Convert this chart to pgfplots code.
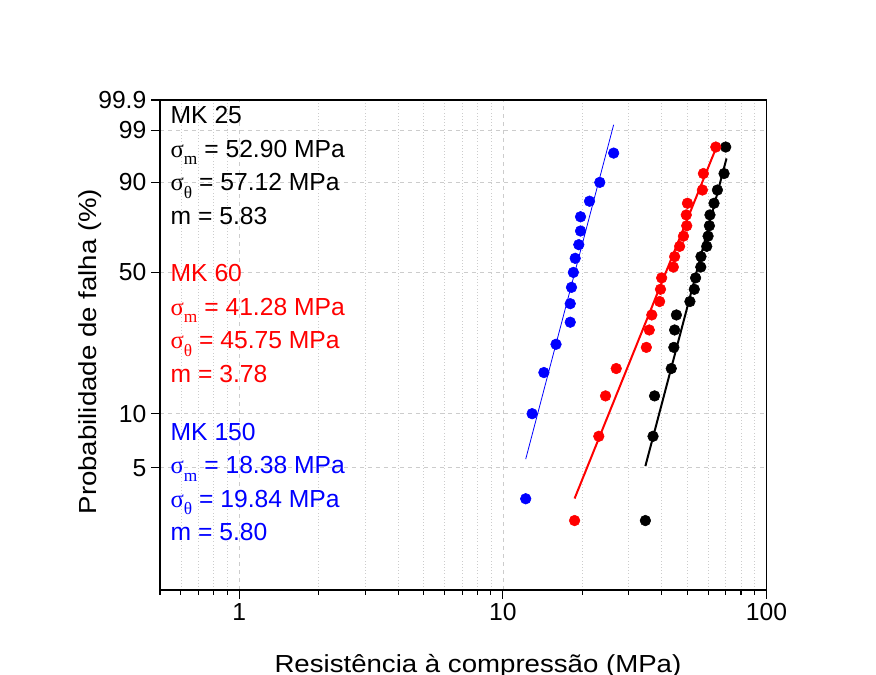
\documentclass[border=0pt]{standalone}
\usepackage{fontspec}
\setmainfont{Liberation Sans}
\newfontfamily\labfont[FakeStretch=1.12]{Liberation Sans}
\newfontfamily\grk{Liberation Serif}
\usepackage{pgfplots}
\usepackage{pgfplotstable}
\pgfplotsset{compat=1.18}
\usetikzlibrary{calc}

% sigma with a serif subscript, as in the original annotation
\newcommand{\sig}[1]{{\grk σ}\raisebox{-0.3em}{\grk\fontsize{13}{13}\selectfont #1}}

% strength (MPa) vs failure probability (%)
\pgfplotstableread{
x P
34.7 2.5
37.1 7.5
37.6 12.5
43.5 17.5
44.5 22.5
44.8 27.5
45.5 32.5
51.2 37.5
53.2 42.5
53.8 47.5
56.3 52.5
56.4 57.5
59.3 62.5
60.0 67.5
60.7 72.5
61.0 77.5
63.2 82.5
65.1 87.5
69.0 92.5
70.0 97.5
}\mkA
\pgfplotstableread{
x P
18.7 2.5
23.1 7.5
24.5 12.5
26.9 17.5
35.0 22.5
35.9 27.5
36.7 32.5
39.3 37.5
39.6 42.5
40.0 47.5
44.3 52.5
44.8 57.5
46.8 62.5
48.4 67.5
49.8 72.5
49.6 77.5
50.1 82.5
57.1 87.5
57.6 92.5
64.2 97.5
}\mkB
\pgfplotstableread{
x P
12.2 3.33
12.9 10
14.3 16.67
15.9 23.33
18.0 30
18.0 36.67
18.2 43.33
18.5 50
18.8 56.67
19.4 63.33
19.7 70
19.7 76.67
21.3 83.33
23.3 90
26.3 96.67
}\mkC
% fitted lines (end points)
\pgfplotstableread{
x P
34.7 5.1
70.5 95.8
}\fitA
\pgfplotstableread{
x P
18.7 3.34
64.2 97.3
}\fitB
\pgfplotstableread{
x P
12.2 5.58
26.3 99.3
}\fitC

\begin{document}
\begin{tikzpicture}[font=\fontsize{18.5}{22}\selectfont]
\begin{axis}[
  scale only axis, width=455pt, height=367.5pt,
  xmode=log, xmin=0.5, xmax=100,
  ymin=-4.60015, ymax=1.93264,
  xtick={1,10,100}, xticklabels={1,10,100},
  minor xtick={0.5,0.6,0.7,0.8,0.9,2,3,4,5,6,7,8,9,20,30,40,50,60,70,80,90},
  ytick={-2.97020,-2.25037,-0.36651,0.83403,1.52718,1.93264},
  yticklabels={5,10,50,90,99,99.9},
  xtick pos=bottom, ytick pos=left,
  tick align=outside,
  major tick length=6.75pt, minor tick length=3.75pt,
  tick style={black, line width=0.8pt},
  axis line style={line width=1pt},
  grid=both,
  major grid style={dashed, gray!40, line width=0.5pt},
  minor grid style={dotted, gray!40, line width=0.5pt},
  clip=false,
]
\addplot[only marks, mark=*, mark size=4pt, black] table[x=x, y expr={ln(-ln(1-\thisrow{P}/100))}] {\mkA};
\addplot[only marks, mark=*, mark size=4pt, red] table[x=x, y expr={ln(-ln(1-\thisrow{P}/100))}] {\mkB};
\addplot[only marks, mark=*, mark size=4pt, blue] table[x=x, y expr={ln(-ln(1-\thisrow{P}/100))}] {\mkC};
\addplot[black, line width=1.5pt, mark=none] table[x=x, y expr={ln(-ln(1-\thisrow{P}/100))}] {\fitA};
\addplot[red, line width=1.5pt, mark=none] table[x=x, y expr={ln(-ln(1-\thisrow{P}/100))}] {\fitB};
\addplot[blue, line width=0.6pt, mark=none] table[x=x, y expr={ln(-ln(1-\thisrow{P}/100))}] {\fitC};
\coordinate (sw) at (rel axis cs:0,0);
\coordinate (ne) at (rel axis cs:1,1);
\coordinate (nw) at (rel axis cs:0,1);
\coordinate (s) at (rel axis cs:0.5,0);
\coordinate (w) at (rel axis cs:0,0.5);
\end{axis}

\node[anchor=base, font=\labfont\fontsize{18.5}{22}\selectfont] at ($(s)+(11pt,-62.25pt)$) {Resistência à compressão (MPa)};
\node[rotate=90, anchor=center, font=\labfont\fontsize{18.5}{22}\selectfont] at ($(w)+(-52.5pt,-5pt)$) {Probabilidade de falha (\%)};

\begin{scope}[every node/.style={anchor=base west}]
\node[black] at ($(nw)+(4.5pt,-18pt)$) {MK 25};
\node[black] at ($(nw)+(4.5pt,-43.1pt)$) {\sig{m} = 52.90 MPa};
\node[black] at ($(nw)+(4.5pt,-68.25pt)$) {\sig{θ} = 57.12 MPa};
\node[black] at ($(nw)+(4.5pt,-93.4pt)$) {m = 5.83};
\node[red] at ($(nw)+(4.5pt,-136.5pt)$) {MK 60};
\node[red] at ($(nw)+(4.5pt,-161.6pt)$) {\sig{m} = 41.28 MPa};
\node[red] at ($(nw)+(4.5pt,-186.75pt)$) {\sig{θ} = 45.75 MPa};
\node[red] at ($(nw)+(4.5pt,-211.9pt)$) {m = 3.78};
\node[blue] at ($(nw)+(4.5pt,-255.4pt)$) {MK 150};
\node[blue] at ($(nw)+(4.5pt,-280.5pt)$) {\sig{m} = 18.38 MPa};
\node[blue] at ($(nw)+(4.5pt,-305.6pt)$) {\sig{θ} = 19.84 MPa};
\node[blue] at ($(nw)+(4.5pt,-330.75pt)$) {m = 5.80};
\end{scope}

\pgfresetboundingbox
\path[use as bounding box] ($(sw)+(-120pt,-63.75pt)$) rectangle ($(ne)+(82.1pt,75pt)$);
\end{tikzpicture}
\end{document}
